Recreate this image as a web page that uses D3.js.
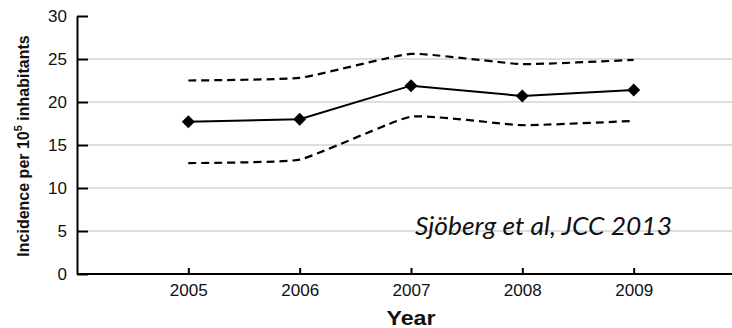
<!DOCTYPE html>
<html>
<head>
<meta charset="utf-8">
<script src="https://cdn.jsdelivr.net/npm/d3@7"></script>
<style>
  html, body { margin: 0; padding: 0; background: #fff; }
  svg { display: block; }
</style>
</head>
<body>
<svg id="chart" width="732" height="328"></svg>
<script>
// Incidence per 100 000 inhabitants, 2005–2009, with 95% confidence band
const years = [2005, 2006, 2007, 2008, 2009];
const incidence = [17.7, 18.0, 21.9, 20.7, 21.4];
const upperCI = [22.5, 22.8, 25.6, 24.4, 24.9];
const lowerCI = [12.9, 13.3, 18.3, 17.3, 17.8];
const yTicks = [0, 5, 10, 15, 20, 25, 30];

const FONT = "'Liberation Sans', Arial, Helvetica, sans-serif";
const svg = d3.select("#chart");
const W = 732, H = 328;
const plotLeft = 77, plotBottom = 274, plotTop = 16;

const x = d3.scaleLinear().domain([2004, 2010]).range([plotLeft, 745]);
const y = d3.scaleLinear().domain([0, 30]).range([plotBottom, plotTop]);

// horizontal grid lines
svg.append("g")
  .selectAll("line")
  .data(yTicks.filter(d => d > 0 && d < 30))
  .join("line")
  .attr("x1", plotLeft + 11).attr("x2", W)
  .attr("y1", d => y(d)).attr("y2", d => y(d))
  .attr("stroke", "#bdbdbd").attr("stroke-width", 1);

// y axis with inward ticks
const yAxis = svg.append("g")
  .attr("transform", `translate(${plotLeft},0)`)
  .call(d3.axisLeft(y).tickValues(yTicks).tickSize(-11).tickPadding(10).tickSizeOuter(0));
yAxis.select(".domain").attr("stroke", "#000").attr("stroke-width", 2);
yAxis.selectAll(".tick line").attr("stroke", "#000").attr("stroke-width", 2);
yAxis.selectAll(".tick text")
  .attr("font-family", FONT)
  .attr("font-size", 17).attr("fill", "#111");

// x axis with inward ticks
const xAxis = svg.append("g")
  .attr("transform", `translate(0,${plotBottom})`)
  .call(d3.axisBottom(x).tickValues(years).tickFormat(d3.format("d")).tickSize(-6).tickPadding(10).tickSizeOuter(0));
xAxis.select(".domain").attr("d", `M${plotLeft},0H${W}`).attr("stroke", "#000").attr("stroke-width", 2);
xAxis.selectAll(".tick line").attr("stroke", "#000").attr("stroke-width", 2);
xAxis.selectAll(".tick text")
  .attr("font-family", FONT)
  .attr("font-size", 16.5).attr("fill", "#111")
  .attr("textLength", 38).attr("lengthAdjust", "spacingAndGlyphs");

// confidence limits (dashed, lightly smoothed)
const limit = d3.line().x((d, i) => x(years[i])).y(d => y(d)).curve(d3.curveCardinal.tension(0.6));
[upperCI, lowerCI].forEach(s => {
  svg.append("path")
    .attr("d", limit(s))
    .attr("fill", "none").attr("stroke", "#000")
    .attr("stroke-width", 2.2).attr("stroke-dasharray", "8,5");
});

// point estimate
const straight = d3.line().x((d, i) => x(years[i])).y(d => y(d));
svg.append("path")
  .attr("d", straight(incidence))
  .attr("fill", "none").attr("stroke", "#000").attr("stroke-width", 2);

const r = 6.5;
svg.append("g")
  .selectAll("path")
  .data(incidence)
  .join("path")
  .attr("d", (d, i) => {
    const cx = x(years[i]), cy = y(d);
    return `M${cx},${cy - r}L${cx + r},${cy}L${cx},${cy + r}L${cx - r},${cy}Z`;
  })
  .attr("fill", "#000");

// axis titles
svg.append("text")
  .attr("transform", `translate(29,${(28 + 264) / 2}) rotate(-90)`)
  .attr("text-anchor", "middle")
  .attr("font-family", FONT)
  .attr("font-weight", "bold").attr("font-size", 16).attr("fill", "#111")
  .call(t => {
    t.append("tspan").text("Incidence per 10");
    t.append("tspan").attr("dy", -7).attr("font-size", 11).text("5");
    t.append("tspan").attr("dy", 7).text(" inhabitants");
  });

svg.append("text")
  .attr("x", x(2007)).attr("y", 325)
  .attr("text-anchor", "middle")
  .attr("font-family", FONT)
  .attr("font-weight", "bold").attr("font-size", 21).attr("fill", "#111")
  .attr("textLength", 49).attr("lengthAdjust", "spacingAndGlyphs")
  .text("Year");

// source annotation
svg.append("text")
  .attr("x", 415).attr("y", 235)
  .attr("font-family", "Lato, 'Open Sans', sans-serif")
  .attr("font-style", "italic").attr("font-size", 25).attr("fill", "#111")
  .attr("textLength", 257).attr("lengthAdjust", "spacingAndGlyphs")
  .text("Sjöberg et al, JCC 2013");
</script>
</body>
</html>
